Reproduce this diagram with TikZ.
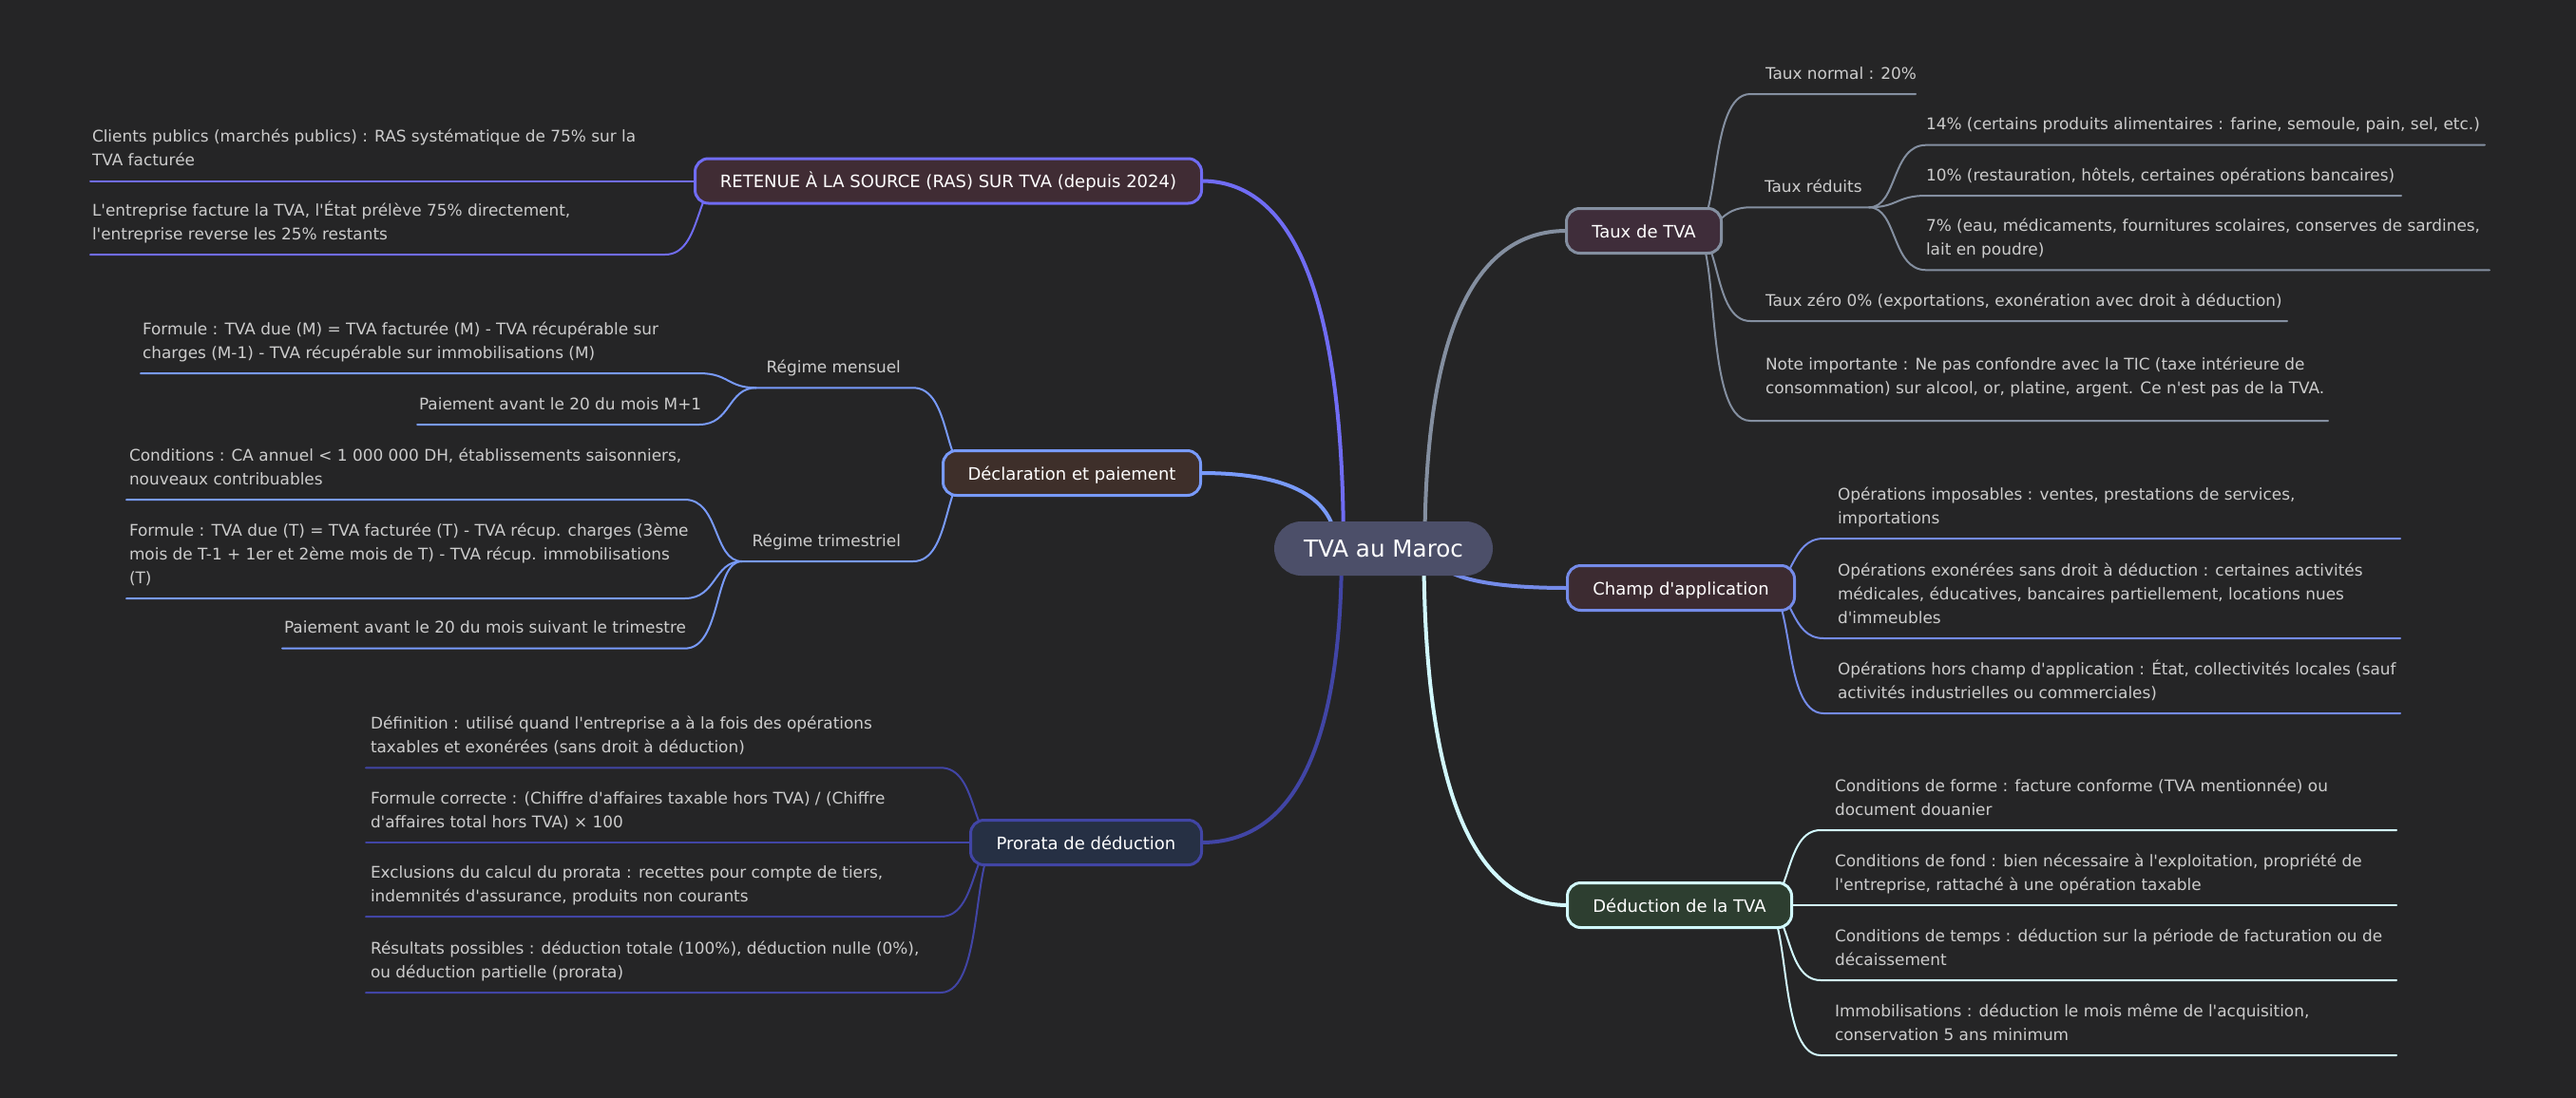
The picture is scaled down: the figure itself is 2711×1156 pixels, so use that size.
\documentclass[tikz,border=0pt]{standalone}
\usepackage{fontspec}
\newfontfamily\dv{DejaVu Sans}
\usetikzlibrary{calc}
\definecolor{bgc}{HTML}{252526}
\definecolor{rootc}{HTML}{4C4F69}
\definecolor{leafc}{HTML}{CCCCCC}
\definecolor{cA}{HTML}{848FA0}
\definecolor{cB}{HTML}{748BE9}
\definecolor{cC}{HTML}{D2F9FE}
\definecolor{cD}{HTML}{706CF4}
\definecolor{cE}{HTML}{789AFA}
\definecolor{cF}{HTML}{4145A5}
\definecolor{fA}{HTML}{3F2D3A}
\definecolor{fB}{HTML}{3C2B31}
\definecolor{fC}{HTML}{2D3E30}
\definecolor{fD}{HTML}{402C34}
\definecolor{fE}{HTML}{3E2F2A}
\definecolor{fF}{HTML}{263044}
\pgfdeclarelayer{back}\pgfdeclarelayer{lnk}\pgfsetlayers{back,lnk,main}
\newcommand\mlk[4]{%
  \coordinate (#4s) at ([xshift=#2pt]root.center);
  \coordinate (#4k) at (#4s |- #3);
  \draw[mainln,#1] (#4s) .. controls ($(#4s)!0.6667!(#4k)$) and ($(#3)!0.6667!(#4k)$) .. (#3);}
\newcommand\lkRF[4]{\draw[subln,#1] ([xshift=-30pt]#2.east) .. controls (#2.east) and ($(#2.east |- #3us)+(-#4,0)$) .. (#3us) -- (#3ue);}
\newcommand\lkRN[4]{\draw[subln,#1] (#2ue) .. controls +(30,0) and +(-30-#4,0) .. (#3us) -- (#3ue);}
\newcommand\lkLF[4]{\draw[subln,#1] ([xshift=30pt]#2.west) .. controls (#2.west) and ($(#2.west |- #3ue)+(#4,0)$) .. (#3ue) -- (#3us);}
\newcommand\lkLN[4]{\draw[subln,#1] (#2us) .. controls +(-30,0) and +(30+#4,0) .. (#3ue) -- (#3us);}
\begin{document}
\begin{tikzpicture}[x=1pt,y=-1pt,
  mainnode/.style={draw, line width=3pt, rounded corners=14pt, minimum height=47pt, inner sep=0pt, outer sep=0pt, text=white, font=\dv\fontsize{18pt}{22pt}\selectfont, text height=18.5pt, text depth=4pt},
  leaf/.style={anchor=base west, inner sep=0pt, outer sep=0pt, align=left, text=leafc, font=\dv\fontsize{16.9pt}{25pt}\selectfont},
  mainln/.style={line width=4pt, line cap=round},
  subln/.style={line width=2pt, line cap=round}]
\begin{pgfonlayer}{back}
\fill[bgc] (0,0) rectangle (2711,1156);
\end{pgfonlayer}
\useasboundingbox (0,0) rectangle (2711,1156);

% root and main nodes
\node[fill=rootc, rounded corners=28.5pt, minimum width=230pt, minimum height=57pt, inner sep=0pt, outer sep=0pt, text=white, font=\dv\fontsize{24.6pt}{30pt}\selectfont, text height=22pt, text depth=5pt] (root) at (1456,577.5) {TVA au Maroc};
\node[mainnode, draw=cA, fill=fA, minimum width=163pt] (taux) at (1730,243) {Taux de TVA};
\node[mainnode, draw=cB, fill=fB, minimum width=239pt] (champ) at (1769,619) {Champ d'application};
\node[mainnode, draw=cC, fill=fC, minimum width=236pt] (deduc) at (1767.5,953) {Déduction de la TVA};
\node[mainnode, draw=cD, fill=fD, minimum width=533pt] (ras) at (998,190.5) {RETENUE À LA SOURCE (RAS) SUR TVA (depuis 2024)};
\node[mainnode, draw=cE, fill=fE, minimum width=271pt] (decl) at (1128,498) {Déclaration et paiement};
\node[mainnode, draw=cF, fill=fF, minimum width=243pt] (prorata) at (1143,887) {Prorata de déduction};

% Taux de TVA leaves (anchor = baseline of last line)
\node[leaf] (A1) at (1858,83) {Taux normal : 20\%};
\coordinate (A1us) at (1842,99); \coordinate (A1ue) at (2016,99);
\node[leaf] (A2) at (1857,202.3) {Taux réduits};
\coordinate (A2us) at (1842,218.3); \coordinate (A2ue) at (1967,218.3);
\node[leaf] (A2a) at (2027,136.7) {14\% (certains produits alimentaires : farine, semoule, pain, sel, etc.)};
\coordinate (A2aus) at (2027,152.7); \coordinate (A2aue) at (2615,152.7);
\node[leaf] (A2b) at (2027,190) {10\% (restauration, hôtels, certaines opérations bancaires)};
\coordinate (A2bus) at (2027,206); \coordinate (A2bue) at (2527,206);
\node[leaf] (A2c) at (2027,268.3) {7\% (eau, médicaments, fournitures scolaires, conserves de sardines,\\lait en poudre)};
\coordinate (A2cus) at (2027,284.3); \coordinate (A2cue) at (2620,284.3);
\node[leaf] (A3) at (1858,322) {Taux zéro 0\% (exportations, exonération avec droit à déduction)};
\coordinate (A3us) at (1842,338); \coordinate (A3ue) at (2407,338);
\node[leaf] (A4) at (1858,414) {Note importante : Ne pas confondre avec la TIC (taxe intérieure de\\consommation) sur alcool, or, platine, argent. Ce n'est pas de la TVA.};
\coordinate (A4us) at (1842,443); \coordinate (A4ue) at (2450,443);

% Champ d'application leaves
\node[leaf] (B1) at (1934,551) {Opérations imposables : ventes, prestations de services,\\importations};
\coordinate (B1us) at (1919,567); \coordinate (B1ue) at (2526,567);
\node[leaf] (B2) at (1934,656) {Opérations exonérées sans droit à déduction : certaines activités\\médicales, éducatives, bancaires partiellement, locations nues\\d'immeubles};
\coordinate (B2us) at (1919,672); \coordinate (B2ue) at (2526,672);
\node[leaf] (B3) at (1934,735) {Opérations hors champ d'application : État, collectivités locales (sauf\\activités industrielles ou commerciales)};
\coordinate (B3us) at (1919,751); \coordinate (B3ue) at (2526,751);

% Deduction leaves
\node[leaf] (C1) at (1931,858) {Conditions de forme : facture conforme (TVA mentionnée) ou\\document douanier};
\coordinate (C1us) at (1916,874); \coordinate (C1ue) at (2522,874);
\node[leaf] (C2) at (1931,937) {Conditions de fond : bien nécessaire à l'exploitation, propriété de\\l'entreprise, rattaché à une opération taxable};
\coordinate (C2us) at (1916,953); \coordinate (C2ue) at (2522,953);
\node[leaf] (C3) at (1931,1016) {Conditions de temps : déduction sur la période de facturation ou de\\décaissement};
\coordinate (C3us) at (1916,1032); \coordinate (C3ue) at (2522,1032);
\node[leaf] (C4) at (1931,1095) {Immobilisations : déduction le mois même de l'acquisition,\\conservation 5 ans minimum};
\coordinate (C4us) at (1916,1111); \coordinate (C4ue) at (2522,1111);

% RAS leaves
\node[leaf] (D1) at (97,174.5) {Clients publics (marchés publics) : RAS systématique de 75\% sur la\\TVA facturée};
\coordinate (D1us) at (95,190.5); \coordinate (D1ue) at (700,190.5);
\node[leaf] (D2) at (97,252) {L'entreprise facture la TVA, l'État prélève 75\% directement,\\l'entreprise reverse les 25\% restants};
\coordinate (D2us) at (95,268); \coordinate (D2ue) at (700,268);

% Declaration leaves
\node[leaf] (E1) at (806.7,392.3) {Régime mensuel};
\coordinate (E1us) at (795.7,408.3); \coordinate (E1ue) at (961,408.3);
\node[leaf] (E1a) at (150,377) {Formule : TVA due (M) = TVA facturée (M) - TVA récupérable sur\\charges (M-1) - TVA récupérable sur immobilisations (M)};
\coordinate (E1aus) at (148,393); \coordinate (E1aue) at (735.7,393);
\node[leaf] (E1b) at (441,431) {Paiement avant le 20 du mois M+1};
\coordinate (E1bus) at (439,447); \coordinate (E1bue) at (735.7,447);
\node[leaf] (E2) at (791.7,575) {Régime trimestriel};
\coordinate (E2us) at (780.7,591); \coordinate (E2ue) at (961,591);
\node[leaf] (E2a) at (136,510) {Conditions : CA annuel < 1 000 000 DH, établissements saisonniers,\\nouveaux contribuables};
\coordinate (E2aus) at (133,526); \coordinate (E2aue) at (720.7,526);
\node[leaf] (E2b) at (136,614) {Formule : TVA due (T) = TVA facturée (T) - TVA récup. charges (3ème\\mois de T-1 + 1er et 2ème mois de T) - TVA récup. immobilisations\\(T)};
\coordinate (E2bus) at (133,630); \coordinate (E2bue) at (720.7,630);
\node[leaf] (E2c) at (299,666.7) {Paiement avant le 20 du mois suivant le trimestre};
\coordinate (E2cus) at (297,682.7); \coordinate (E2cue) at (720.7,682.7);

% Prorata leaves
\node[leaf] (F1) at (390,792.3) {Définition : utilisé quand l'entreprise a à la fois des opérations\\taxables et exonérées (sans droit à déduction)};
\coordinate (F1us) at (385,808.3); \coordinate (F1ue) at (990,808.3);
\node[leaf] (F2) at (390,871) {Formule correcte : (Chiffre d'affaires taxable hors TVA) / (Chiffre\\d'affaires total hors TVA) × 100};
\coordinate (F2us) at (385,887); \coordinate (F2ue) at (990,887);
\node[leaf] (F3) at (390,949) {Exclusions du calcul du prorata : recettes pour compte de tiers,\\indemnités d'assurance, produits non courants};
\coordinate (F3us) at (385,965); \coordinate (F3ue) at (990,965);
\node[leaf] (F4) at (390,1029) {Résultats possibles : déduction totale (100\%), déduction nulle (0\%),\\ou déduction partielle (prorata)};
\coordinate (F4us) at (385,1045); \coordinate (F4ue) at (990,1045);

\begin{pgfonlayer}{lnk}
% main links
\mlk{cA}{43.4}{taux.west}{mA}
\mlk{cB}{50.7}{champ.west}{mB}
\mlk{cC}{42.4}{deduc.west}{mC}
\mlk{cD}{-42.1}{ras.east}{mD}
\mlk{cE}{-49.8}{decl.east}{mE}
\mlk{cF}{-44.05}{prorata.east}{mF}
% Taux links
\lkRF{cA}{taux}{A1}{14.4}
\lkRF{cA}{taux}{A2}{2.5}
\lkRF{cA}{taux}{A3}{9.5}
\lkRF{cA}{taux}{A4}{20}
\lkRN{cA}{A2}{A2a}{6.6}
\lkRN{cA}{A2}{A2b}{1.2}
\lkRN{cA}{A2}{A2c}{6.6}
% Champ links
\lkRF{cB}{champ}{B1}{5.2}
\lkRF{cB}{champ}{B2}{5.3}
\lkRF{cB}{champ}{B3}{13.2}
% Deduction links
\lkRF{cC}{deduc}{C1}{7.9}
\lkRF{cC}{deduc}{C2}{0}
\lkRF{cC}{deduc}{C3}{7.9}
\lkRF{cC}{deduc}{C4}{15.8}
% RAS links
\lkLF{cD}{ras}{D1}{0}
\lkLF{cD}{ras}{D2}{7.8}
% Declaration links
\lkLF{cE}{decl}{E1}{9}
\lkLF{cE}{decl}{E2}{9.3}
\lkLN{cE}{E1}{E1a}{1.5}
\lkLN{cE}{E1}{E1b}{3.9}
\lkLN{cE}{E2}{E2a}{6.5}
\lkLN{cE}{E2}{E2b}{3.9}
\lkLN{cE}{E2}{E2c}{9.2}
% Prorata links
\lkLF{cF}{prorata}{F1}{7.9}
\lkLF{cF}{prorata}{F2}{0}
\lkLF{cF}{prorata}{F3}{7.8}
\lkLF{cF}{prorata}{F4}{15.8}
\end{pgfonlayer}
\end{tikzpicture}
\end{document}
